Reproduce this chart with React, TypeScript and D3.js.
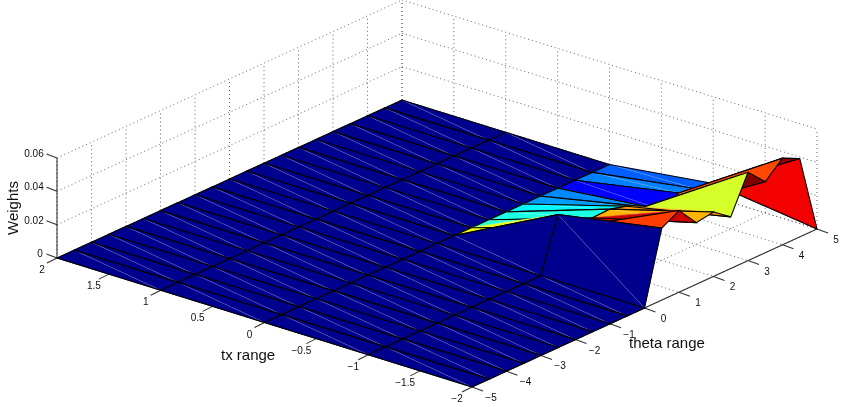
import React, { useRef, useEffect } from 'react';
import * as d3 from 'd3';

// Mesh axes of the surface
const txValues = [2, 1, 0, -1, -2];
const thetaValues = [
  -5, -4.5, -4, -3.5, -3, -2.5, -2, -1.5, -1, -0.5, 0,
  0.5, 1, 1.5, 2, 2.5, 3, 3.5, 4, 4.5, 5,
];

// Weights along each tx row, one value per theta
const weightsTx2 = [0, 0, 0, 0, 0, 0, 0, 0, 0, 0, 0, 0, 0, 0, 0, 0, 0, 0, 0, 0, 0];
const weightsTx1 = [0, 0, 0, 0, 0, 0, 0, 0, 0, 0, 0, 0, 0, 0, 0, 0, 0, 0, 0, 0, 0];
const weightsTx0 = [0, 0, 0, 0, 0, 0, 0, 0, 0, 0, 0, 0, 0, 0, 0, 0, 0, 0, 0, 0, 0];
const weightsTxM1 = [
  0, 0, 0, 0, 0, 0, 0, 0, 0, 0, 0,
  0.032, 0.02, 0.0206, 0.021, 0.018, 0.0129, 0.0064, 0.0117, 0.0095, 0.008,
];
const weightsTxM2 = [
  0, 0, 0, 0, 0, 0, 0, 0, 0, 0, 0,
  0.0432, 0.049, 0.037, 0.0386, 0.031, 0.053, 0.0426, 0.052, 0.047, 0,
];

// Colour data of the tx=-1 row
const colorTxM1 = [
  0, 0, 0, 0, 0, 0, 0, 0, 0, 0, 0,
  0.032, 0.0223, 0.0212, 0.0195, 0.0148, 0.0138, 0.0064, 0.0133, 0.0115, 0.008,
];

const weightRows = [weightsTx2, weightsTx1, weightsTx0, weightsTxM1, weightsTxM2];
const colorRows = [weightsTx2, weightsTx1, weightsTx0, colorTxM1, weightsTxM2];

// Tick labels
const txTicks = [2, 1.5, 1, 0.5, 0, -0.5, -1, -1.5, -2];
const thetaTicks = [-5, -4, -3, -2, -1, 0, 1, 2, 3, 4, 5];
const weightTicks = [0, 0.02, 0.04, 0.06];

const colorMax = 0.053;

export default function App() {
  const svgRef = useRef<SVGSVGElement>(null);

  useEffect(() => {
    const svg = d3.select(svgRef.current);
    svg.selectAll('*').remove();

    // Projection of the 3D box on the screen
    const txX = d3.scaleLinear().domain([2, -2]).range([0, 415]);
    const txY = d3.scaleLinear().domain([2, -2]).range([0, 129]);
    const thetaX = d3.scaleLinear().domain([-5, 5]).range([0, 345]);
    const thetaY = d3.scaleLinear().domain([-5, 5]).range([0, -158]);
    const weightY = d3.scaleLinear().domain([0, 0.06]).range([0, -100]);

    const project = (tx: number, theta: number, w: number): [number, number] => [
      57 + txX(tx) + thetaX(theta),
      258 + txY(tx) + thetaY(theta) + weightY(w),
    ];

    // MATLAB's jet colormap
    const jet = (level: number) => {
      const t = Math.max(0.015, Math.min(1, level / colorMax));
      const c = (v: number) => Math.round(255 * Math.max(0, Math.min(1, 1.5 - Math.abs(4 * t - v))));
      return `rgb(${c(3)},${c(2)},${c(1)})`;
    };

    const path = d3.line();

    const defs = svg.append('defs');
    defs
      .append('filter')
      .attr('id', 'soft')
      .append('feGaussianBlur')
      .attr('stdDeviation', 0.5);

    const chart = svg.append('g').attr('filter', 'url(#soft)');

    // Dotted grid on the two back walls and the floor
    const grid = chart
      .append('g')
      .attr('fill', 'none')
      .attr('stroke', '#555')
      .attr('stroke-width', 0.9)
      .attr('stroke-dasharray', '1 3');

    const gridLine = (a: [number, number], b: [number, number]) =>
      grid.append('path').attr('d', path([a, b]));

    weightTicks.forEach((w) => {
      gridLine(project(2, -5, w), project(2, 5, w));
      gridLine(project(2, 5, w), project(-2, 5, w));
    });
    thetaTicks.forEach((t) => {
      gridLine(project(2, t, 0), project(2, t, 0.06));
      gridLine(project(2, t, 0), project(-2, t, 0));
    });
    txTicks.forEach((x) => {
      gridLine(project(x, 5, 0), project(x, 5, 0.06));
      gridLine(project(x, -5, 0), project(x, 5, 0));
    });

    // Axis lines and tick marks
    const axes = chart
      .append('g')
      .attr('fill', 'none')
      .attr('stroke', '#333')
      .attr('stroke-width', 1.1);

    const axisLine = (a: [number, number], b: [number, number]) =>
      axes.append('path').attr('d', path([a, b]));

    axisLine(project(2, -5, 0), project(2, -5, 0.06));
    axisLine(project(2, -5, 0), project(-2, -5, 0));
    axisLine(project(-2, -5, 0), project(-2, 5, 0));

    const labels = chart
      .append('g')
      .attr('font-family', '"Liberation Sans", Arial, sans-serif')
      .attr('font-size', 10)
      .attr('fill', '#111')
      .attr('text-anchor', 'middle');

    const fmt = (v: number) => String(v).replace('-', '\u2212');

    weightTicks.forEach((w) => {
      const [px, py] = project(2, -5, w);
      axisLine([px, py], [px - 10.5, py - 4]);
      labels
        .append('text')
        .attr('x', w === 0 ? px - 17 : px - 23)
        .attr('y', py - 1)
        .text(fmt(w));
    });
    txTicks.forEach((x) => {
      const [px, py] = project(x, -5, 0);
      axisLine([px, py], [px - 10, py + 5]);
      labels
        .append('text')
        .attr('x', px - 15)
        .attr('y', py + 15)
        .text(fmt(x));
    });
    thetaTicks.forEach((t) => {
      const [px, py] = project(-2, t, 0);
      axisLine([px, py], [px + 11, py + 4]);
      labels
        .append('text')
        .attr('x', px + 19)
        .attr('y', py + 14)
        .text(fmt(t));
    });

    // Surface, painted from the back corner to the front
    const surface = chart.append('g');
    for (let j = thetaValues.length - 2; j >= 0; j--) {
      for (let i = 0; i < txValues.length - 1; i++) {
        const a = project(txValues[i], thetaValues[j], weightRows[i][j]);
        const b = project(txValues[i], thetaValues[j + 1], weightRows[i][j + 1]);
        const c = project(txValues[i + 1], thetaValues[j + 1], weightRows[i + 1][j + 1]);
        const d = project(txValues[i + 1], thetaValues[j], weightRows[i + 1][j]);
        const fill = jet(colorRows[i + 1][j]);

        // Each cell is split in two along the b-d diagonal
        surface.append('path').attr('d', path([a, b, d]) + 'Z').attr('fill', fill).attr('stroke', fill).attr('stroke-width', 0.3);
        surface.append('path').attr('d', path([b, c, d]) + 'Z').attr('fill', fill).attr('stroke', fill).attr('stroke-width', 0.3);
        surface
          .append('path')
          .attr('d', path([b, d]))
          .attr('fill', 'none')
          .attr('stroke', '#fff')
          .attr('stroke-opacity', 0.35)
          .attr('stroke-width', 0.6);
        surface
          .append('path')
          .attr('d', path([a, b, c, d]) + 'Z')
          .attr('fill', 'none')
          .attr('stroke', '#000')
          .attr('stroke-width', 1.1);
      }
    }

    // Axis titles
    const titles = chart
      .append('g')
      .attr('font-family', '"Liberation Sans", Arial, sans-serif')
      .attr('font-size', 15)
      .attr('fill', '#111');

    titles
      .append('text')
      .attr('text-anchor', 'middle')
      .attr('transform', 'translate(18,208) rotate(-90)')
      .text('Weights');
    titles.append('text').attr('x', 221).attr('y', 360).text('tx range');
    titles.append('text').attr('x', 629).attr('y', 348).text('theta range');
  }, []);

  return (
    <svg
      ref={svgRef}
      width={846}
      height={407}
      style={{ position: 'absolute', left: 0, top: 0, background: '#fff' }}
    />
  );
}
